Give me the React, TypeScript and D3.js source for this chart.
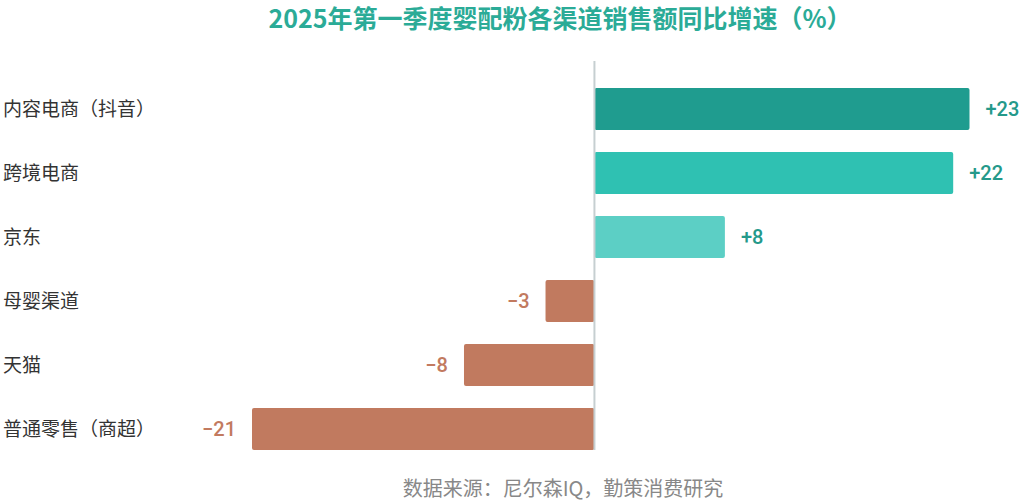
import { useEffect, useRef } from 'react'
import * as d3 from 'd3'

const categories = ['内容电商（抖音）', '跨境电商', '京东', '母婴渠道', '天猫', '普通零售（商超）']
const growth = [23, 22, 8, -3, -8, -21]
const barColors = ['#1f9c8f', '#2fc1b2', '#5ccfc5', '#c17a5f', '#c17a5f', '#c17a5f']

const title = '2025年第一季度婴配粉各渠道销售额同比增速（%）'
const source = '数据来源：尼尔森IQ，勤策消费研究'

const posText = '#24998a'
const negText = '#c27a5f'
const font = '"Noto Sans CJK SC", "Noto Sans", sans-serif'

export default function App() {
  const svgRef = useRef<SVGSVGElement>(null)

  useEffect(() => {
    if (!svgRef.current) return
    const svg = d3.select(svgRef.current)
    svg.selectAll('*').remove()

    const width = 1024
    const height = 503

    const xScale = d3.scaleLinear().domain([-21, 23]).range([252, 969.5])
    const yScale = d3.scaleBand<string>()
      .domain(categories)
      .range([77, 461])
      .paddingInner(0.34375)
      .paddingOuter(0.171875)

    svg.attr('width', width).attr('height', height)

    svg.append('text')
      .attr('x', 560).attr('y', 28)
      .attr('text-anchor', 'middle')
      .attr('font-family', font)
      .attr('font-size', '25px').attr('font-weight', 700)
      .attr('fill', '#2bab97')
      .text(title)

    const rows = categories.map((c, i) => ({ cat: c, value: growth[i], color: barColors[i] }))

    svg.selectAll('.bar')
      .data(rows)
      .enter().append('rect')
      .attr('class', 'bar')
      .attr('x', (d) => xScale(Math.min(0, d.value)))
      .attr('y', (d) => yScale(d.cat) as number)
      .attr('width', (d) => Math.abs(xScale(d.value) - xScale(0)))
      .attr('height', yScale.bandwidth())
      .attr('rx', 2)
      .attr('fill', (d) => d.color)

    const x0 = xScale(0)
    svg.append('line')
      .attr('x1', x0).attr('x2', x0)
      .attr('y1', 61).attr('y2', (yScale(categories[categories.length - 1]) as number) + yScale.bandwidth())
      .attr('stroke', '#c6cfd1').attr('stroke-width', 2)

    svg.selectAll('.cat')
      .data(rows)
      .enter().append('text')
      .attr('class', 'cat')
      .attr('x', 3)
      .attr('y', (d) => (yScale(d.cat) as number) + yScale.bandwidth() / 2)
      .attr('dy', '0.36em')
      .attr('font-family', font)
      .attr('font-size', '19px')
      .attr('fill', '#333')
      .text((d) => d.cat)

    svg.selectAll('.val')
      .data(rows)
      .enter().append('text')
      .attr('class', 'val')
      .attr('x', (d) => xScale(d.value) + (d.value >= 0 ? 16 : -16))
      .attr('y', (d) => (yScale(d.cat) as number) + yScale.bandwidth() / 2)
      .attr('dy', '0.36em')
      .attr('text-anchor', (d) => (d.value >= 0 ? 'start' : 'end'))
      .attr('font-family', 'Roboto, "Liberation Sans", sans-serif')
      .attr('font-size', '20px').attr('font-weight', 500)
      .attr('fill', (d) => (d.value >= 0 ? posText : negText))
      .text((d) => (d.value >= 0 ? `+${d.value}` : `−${Math.abs(d.value)}`))

    svg.append('text')
      .attr('x', 563).attr('y', 489)
      .attr('dy', '0.36em')
      .attr('text-anchor', 'middle')
      .attr('font-family', font)
      .attr('font-size', '20px')
      .attr('fill', '#888')
      .text(source)
  }, [])

  return (
    <div style={{ position: 'absolute', left: 0, top: 0, background: '#fff' }}>
      <svg ref={svgRef} style={{ display: 'block' }}></svg>
    </div>
  )
}
